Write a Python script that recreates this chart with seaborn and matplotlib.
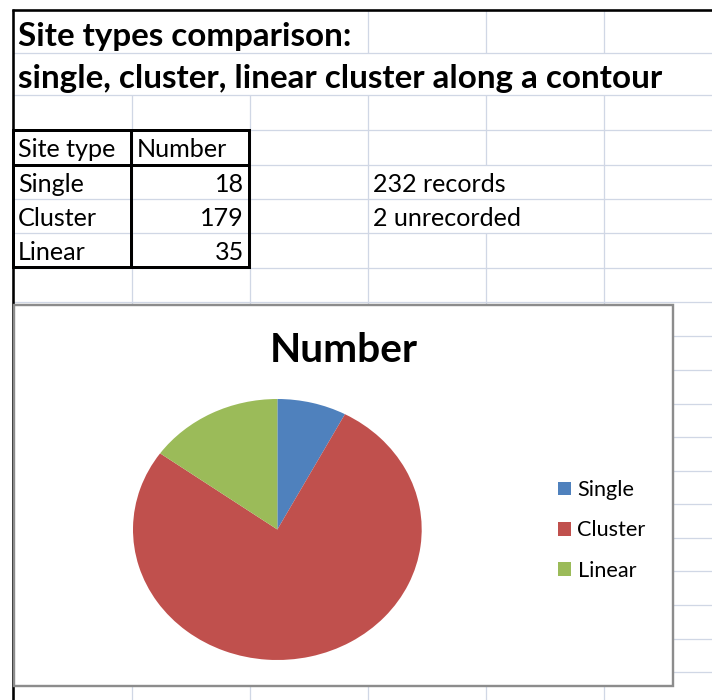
import matplotlib
matplotlib.use("Agg")
import matplotlib.pyplot as plt
import seaborn as sns
from matplotlib.patches import Rectangle

# sheet contents
title_lines = ["Site types comparison:", "single, cluster, linear cluster along a contour"]
header = ["Site type", "Number"]
site_types = ["Single", "Cluster", "Linear"]
counts = [18, 179, 35]
notes = ["232 records", "2 unrecorded"]
chart_title = "Number"
colors = ["#4F81BD", "#C0504D", "#9BBB59"]

sns.set_theme(style="white")
plt.rcParams["font.family"] = ["Lato", "DejaVu Sans"]

W, H = 712, 700
PT = 0.72  # points per pixel at dpi 100
GRID = "#D0D7E5"

fig = plt.figure(figsize=(W / 100, H / 100), dpi=100)
fig.patch.set_facecolor("white")
base = fig.add_axes([0, 0, 1, 1])
base.set_xlim(0, W)
base.set_ylim(H, 0)
base.axis("off")
renderer = fig.canvas.get_renderer()


def fit_size(text, width_px, weight="normal"):
    """Font size (pt) that makes `text` about width_px wide."""
    t = base.text(0, 0, text, fontsize=10, fontweight=weight)
    w = t.get_window_extent(renderer).width
    t.remove()
    return 10 * width_px / w


# spreadsheet grid
rows = [10, 52.5, 95, 130, 164.5, 199, 233, 267.5, 302, 336, 369.5, 403.5,
        437, 470.5, 504, 537.5, 571, 605, 638.5, 672, 706]
cols = [13, 132, 250, 368, 486, 604, 722]
hidden = {0: {132, 250}, 1: {132, 250, 368, 486, 604}, 4: {486}, 5: {486}}

base.hlines(rows[1:], 13, W, color=GRID, lw=1.3 * PT, zorder=1)
for i in range(len(rows) - 1):
    for x in cols[1:-1]:
        if x not in hidden.get(i, set()):
            base.vlines(x, rows[i], rows[i + 1], color=GRID, lw=1.3 * PT, zorder=1)

base.vlines(13, 9, H, color="black", lw=2.6 * PT, zorder=4)
base.hlines(10, 12, W, color="black", lw=2.6 * PT, zorder=4)

# table borders
for (x0, y0, x1, y1) in [(13, 130, 131, 165), (131, 130, 249, 165),
                         (13, 165, 131, 267), (131, 165, 249, 267)]:
    base.add_patch(Rectangle((x0, y0), x1 - x0, y1 - y0, fill=False,
                             edgecolor="black", lw=3 * PT, zorder=3))

# texts
title_fs = fit_size(title_lines[1], 647, "bold")
body_fs = fit_size(notes[1], 149)
base.text(18, 46, title_lines[0], fontsize=title_fs, fontweight="bold", va="baseline", color="black")
base.text(18, 88, title_lines[1], fontsize=title_fs, fontweight="bold", va="baseline", color="black")

base.text(18, 157, header[0], fontsize=body_fs, va="baseline", color="black")
base.text(137, 157, header[1], fontsize=body_fs, va="baseline", color="black")
for i, (name, n) in enumerate(zip(site_types, counts)):
    y = 191.5 + 34.2 * i
    base.text(18, y, name, fontsize=body_fs, va="baseline", color="black")
    base.text(244, y, str(n), fontsize=body_fs, va="baseline", ha="right", color="black")
for i, note in enumerate(notes):
    base.text(373, 191.5 + 34.2 * i, note, fontsize=body_fs, va="baseline", color="black")

# chart area
base.add_patch(Rectangle((14, 305), 659, 381, facecolor="white",
                         edgecolor="#8C8C8C", lw=2.4 * PT, zorder=5))
chart_fs = fit_size(chart_title, 149, "bold")
base.text(343.5, 362, chart_title, fontsize=chart_fs, fontweight="bold",
          ha="center", va="baseline", color="black", zorder=6)

pie_ax = fig.add_axes([133 / W, (H - 660) / H, 288.7 / W, 261 / H])
wedges, _ = pie_ax.pie(counts, colors=colors, startangle=90, counterclock=False,
                       wedgeprops=dict(linewidth=0))
pie_ax.set_aspect("auto")
pie_ax.set_xlim(-1, 1)
pie_ax.set_ylim(-1, 1)
pie_ax.axis("off")

leg_fs = fit_size("Cluster", 68)
fs_px = leg_fs * 100 / 72
leg = base.legend(wedges, site_types, loc="center left",
                  bbox_to_anchor=(558, 530.5), bbox_transform=base.transData,
                  frameon=False, fontsize=leg_fs, borderpad=0, borderaxespad=0,
                  handlelength=12.5 / fs_px, handleheight=12.5 / fs_px,
                  handletextpad=7 / fs_px, labelspacing=(45 - 1.15 * fs_px) / fs_px)
leg.set_zorder(7)
for t in leg.get_texts():
    t.set_color("black")

fig.savefig("out.png", dpi=100)
